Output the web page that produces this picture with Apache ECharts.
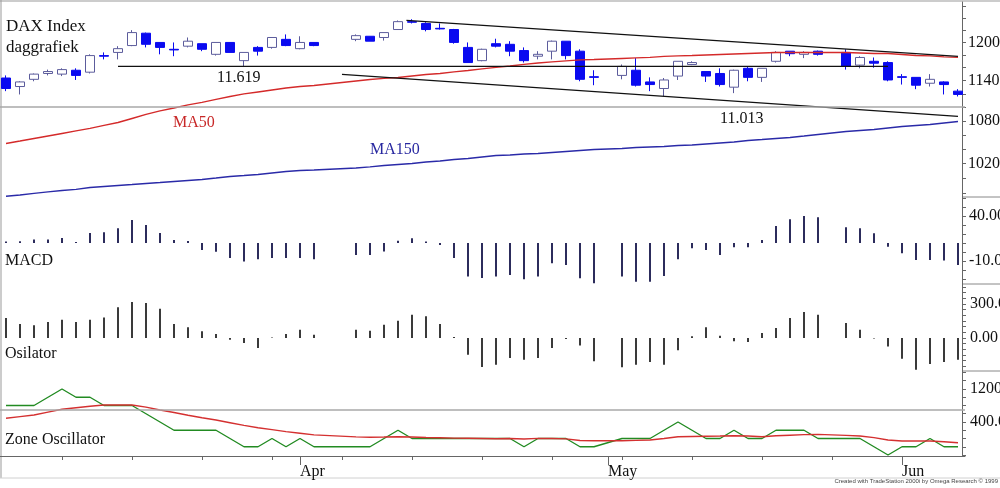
<!DOCTYPE html>
<html>
<head>
<meta charset="utf-8">
<title>DAX Index daggrafiek</title>
<script src="https://cdn.jsdelivr.net/npm/echarts@6/dist/echarts.min.js"></script>
<style>
html, body { margin: 0; padding: 0; background: #fff; }
#chart { width: 1000px; height: 488px; }
</style>
</head>
<body>
<div id="chart"></div>
<script>
// weekday slots, 3 Mar - 5 Jun 2015 (exchange holidays stay as empty slots)
var days = [
  '03-03','03-04','03-05','03-06','03-09','03-10','03-11','03-12','03-13','03-16',
  '03-17','03-18','03-19','03-20','03-23','03-24','03-25','03-26','03-27','03-30',
  '03-31','04-01','04-02','04-03','04-06','04-07','04-08','04-09','04-10','04-13',
  '04-14','04-15','04-16','04-17','04-20','04-21','04-22','04-23','04-24','04-27',
  '04-28','04-29','04-30','05-01','05-04','05-05','05-06','05-07','05-08','05-11',
  '05-12','05-13','05-14','05-15','05-18','05-19','05-20','05-21','05-22','05-25',
  '05-26','05-27','05-28','05-29','06-01','06-02','06-03','06-04','06-05'
];

// [open, close, low, high], index points / 10
var ohlc = [
  [1144,1128,1124,1148],[1131,1138,1119,1139],[1142,1150,1139,1151],[1151,1154,1148,1157],
  [1150,1157,1147,1159],[1156,1148,1141,1159],[1153,1179,1151,1181],[1179,1178,1173,1184],
  [1184,1190,1173,1194],[1195,1216,1194,1220],[1215,1197,1192,1216],[1200,1192,1181,1200],
  [1189,1188,1178,1200],[1194,1202,1192,1208],[1198,1189,1186,1198],[1181,1200,1179,1200],
  [1200,1184,1184,1200],[1171,1184,1161,1184],[1192,1186,1179,1194],[1192,1208,1190,1208],
  [1205,1195,1194,1213],[1190,1200,1189,1210],[1200,1195,1194,1200],null,null,
  [1205,1211,1202,1213],[1210,1202,1202,1210],[1208,1216,1203,1216],[1221,1234,1221,1236],
  [1234,1233,1231,1238],[1231,1221,1218,1233],[1223,1222,1221,1231],[1221,1200,1198,1222],
  [1192,1168,1168,1200],[1171,1189,1170,1190],[1198,1194,1192,1206],[1197,1186,1178,1202],
  [1187,1171,1168,1192],[1178,1181,1173,1186],[1186,1202,1173,1203],[1202,1179,1173,1202],
  [1186,1142,1139,1189],[1146,1145,1133,1156],null,
  [1148,1162,1142,1165],[1156,1133,1131,1175],[1138,1134,1124,1145],[1128,1141,1116,1144],
  [1147,1170,1141,1170],[1165,1168,1164,1170],[1154,1147,1138,1154],[1151,1134,1131,1159],
  [1130,1156,1121,1157],[1159,1145,1139,1161],[1145,1159,1138,1159],[1170,1184,1168,1186],
  [1186,1182,1178,1186],[1181,1184,1175,1186],[1186,1181,1179,1187],null,
  [1184,1162,1157,1189],[1164,1176,1159,1178],[1170,1167,1160,1176],[1168,1141,1139,1170],
  [1146,1145,1134,1150],[1145,1133,1127,1145],[1136,1142,1131,1150],[1138,1134,1119,1139],
  [1124,1119,1116,1127]
];

var ma50 = [
  1047.7,1051.2,1054.8,1058.3,1061.9,1065.5,1069.1,1073.4,1077.7,1083.5,
  1089.4,1094.5,1098.9,1103.4,1107.1,1111.6,1116.0,1119.8,1122.8,1125.8,
  1128.8,1131.1,1132.6,null,null,1139.5,1141.8,1143.4,1144.9,1147.2,
  1149.5,1151.0,1153.4,1155.7,1158.1,1160.4,1162.7,1165.1,1167.4,1169.0,
  1170.6,1172.2,1172.9,null,1174.5,1175.3,1176.1,1177.7,1178.5,1179.2,
  1180.0,1180.8,1181.6,1182.4,1183.2,1184.0,1184.0,1184.0,1184.0,null,
  1184.0,1183.2,1182.4,1182.4,1180.8,1179.2,1178.5,1176.9,1176.1
];

var ma150 = [
  976.0,977.7,979.7,981.7,983.6,985.0,987.6,988.9,990.2,991.5,
  992.9,994.2,995.6,996.9,998.2,1000.2,1002.3,1003.6,1005.0,1007.0,
  1009.0,1010.4,1011.1,null,null,1013.8,1015.2,1017.2,1018.6,1019.9,
  1022.0,1023.3,1025.4,1026.8,1028.9,1031.0,1031.6,1033.0,1033.7,1035.1,
  1036.5,1037.9,1039.3,null,1040.7,1042.1,1042.8,1043.5,1044.9,1045.6,
  1047.0,1048.4,1049.8,1051.9,1053.3,1054.8,1056.2,1058.3,1060.5,null,
  1064.7,1066.2,1067.6,1069.8,1071.9,1073.4,1074.8,1077.0,1079.1
];

// drawn trend lines: [slot, level]
var upperTrend = [[28.6, 1236], [68, 1177.7]];
var lowerTrend = [[24, 1149.7], [68, 1086.4]];
var supportLine = [[8, 1161.9], [63, 1161.9]];
var supportLevel = 1101.3;

var macd = [
  11.5,12,13.9,13.9,15.5,11,21,22,26.5,35.5,
  30,21,13.3,12.2,2.2,0.3,-6.7,-10.7,-8.1,-6.7,
  -6.7,-6.7,-8.1,null,null,-3.3,-3.3,0.4,12.6,15.2,
  11.5,7.8,-6.7,-27.4,-29,-27.4,-25.6,-30.4,-27.4,-12.6,
  -14.4,-29.3,-34.8,null,-27.4,-33,-33,-26.7,-8.1,4.1,
  2.2,-3.3,5.2,5.2,13.3,28.9,36.3,40,38.5,null,
  27.4,26.3,20.7,5.9,-1.5,-8.9,-8.9,-9.6,-14.4
];
var macdBase = 10;

var osc = [
  176,124,112,141,162,141,162,182,271,318,
  309,259,124,94,59,35,-15,-44,-88,5,
  35,74,29,null,null,74,65,118,153,206,
  191,124,10,-147,-256,-235,-176,-191,-176,-88,
  -8,-65,-206,null,-259,-235,-212,-235,-109,15,
  94,20,-29,-35,44,88,176,229,206,null,
  132,74,-5,-74,-182,-279,-229,-212,-191
];

var zone = [
  800,800,800,1000,1200,1000,1000,800,800,800,
  600,400,200,200,200,200,0,-200,-200,0,
  -200,0,-200,null,null,-200,-200,0,200,0,
  0,0,0,0,0,0,0,-200,0,0,
  0,-200,-200,null,0,0,0,200,400,200,
  0,0,200,0,0,200,200,200,0,null,
  0,0,-200,-400,-200,-200,0,-200,-200
];
var zoneAvg = [
  490,530,570,640,708,745,780,812,812,812,
  760,690,630,565,504,448,383,318,260,214,
  168,128,88,null,null,40,29,35,44,35,
  25,20,10,5,0,-5,0,-12,4,0,
  -10,-50,-53,null,-53,-45,-36,0,44,50,
  55,60,68,60,44,65,80,95,100,null,
  75,60,20,-36,-61,-61,-61,-80,-102
];
var zoneLevel = 691;

// axis ticks and labels
var priceLabels = [1020, 1080, 1140, 1200];
var priceTicks = [980,1000,1020,1040,1060,1080,1100,1120,1140,1160,1180,1200,1220,1240,1260];
var macdLabels = [40, -10];
var macdTicks = [-30,-20,-10,0,10,20,30,40,50,60];
var oscLabels = [300, 0];
var oscTicks = [-250,-200,-150,-100,-50,0,50,100,150,200,250,300,350,400,450];
var zoneLabels = [1200, 400];
var zoneTicks = [-400,-200,0,200,400,600,800,1000,1200,1400,1600];
var weekTickSlots = [4,9,14,19,24,29,34,39,44,49,54,59,64];
var monthSlots = [21, 43, 64];
var monthNames = ['Apr', 'May', 'Jun'];

var priceMin = 975, priceMax = 1267;

var serif = "'Liberation Serif', 'Times New Roman', serif";
var axisColor = '#666';

function gaps(arr) {
  return arr.map(function (v) { return v === null ? '-' : v; });
}

function panel(top, height) {
  return { left: -1, right: 35, top: top, height: height, outerBoundsMode: 'none', containLabel: false };
}

function hiddenCat(grid) {
  return {
    type: 'category', gridIndex: grid, data: days, boundaryGap: true,
    axisLine: { show: false, onZero: false }, axisTick: { show: false }, axisLabel: { show: false }
  };
}

function sideAxis(grid, min, max, labels, ticks, fmt, margin) {
  return {
    type: 'value', gridIndex: grid, position: 'right', offset: -3,
    min: min, max: max,
    axisLine: { show: true, lineStyle: { color: axisColor, width: 1 } },
    axisTick: { show: true, customValues: ticks, length: 4, lineStyle: { color: axisColor } },
    axisLabel: {
      customValues: labels, formatter: fmt, margin: margin,
      color: '#111', fontFamily: serif, fontSize: 16, align: 'left'
    },
    splitLine: { show: false }
  };
}

function sticks(values, base, color, idx) {
  var data = [];
  values.forEach(function (v, i) { if (v !== null) data.push([i, v]); });
  return {
    type: 'custom', xAxisIndex: idx, yAxisIndex: idx + 1, data: data, silent: true,
    renderItem: function (params, api) {
      var p0 = api.coord([api.value(0), base]);
      var p1 = api.coord([api.value(0), api.value(1)]);
      return {
        type: 'line',
        shape: { x1: p0[0], y1: p0[1], x2: p1[0], y2: p1[1] },
        style: { stroke: color, lineWidth: 2 }
      };
    }
  };
}

function trend(points, color) {
  return {
    type: 'line', xAxisIndex: 5, yAxisIndex: 0, data: points, symbol: 'none',
    lineStyle: { color: color, width: 1.3 }, silent: true
  };
}

function label(text, x, y, color, size) {
  return {
    type: 'text', x: x, y: y, silent: true,
    style: { text: text, fill: color || '#111', font: (size || 16) + 'px ' + serif, textVerticalAlign: 'middle' }
  };
}

function rule(x1, y1, x2, y2, color) {
  return { type: 'line', silent: true, shape: { x1: x1, y1: y1, x2: x2, y2: y2 }, style: { stroke: color, lineWidth: 1 } };
}

var chart = echarts.init(document.getElementById('chart'));

var option = {
  animation: false,
  backgroundColor: '#fff',
  grid: [panel(2, 195), panel(197, 87), panel(284, 87), panel(371, 85)],
  xAxis: [
    hiddenCat(0),
    hiddenCat(1),
    hiddenCat(2),
    {
      type: 'category', gridIndex: 3, data: days, boundaryGap: true, position: 'bottom',
      axisLine: { show: true, onZero: false, lineStyle: { color: axisColor } },
      axisTick: {
        show: true, alignWithLabel: true, length: 4, lineStyle: { color: axisColor },
        interval: function (i) { return weekTickSlots.indexOf(i) >= 0; }
      },
      axisLabel: { show: false }
    },
    {
      type: 'category', gridIndex: 3, data: days, boundaryGap: true, position: 'bottom',
      axisLine: { show: false, onZero: false },
      axisTick: {
        show: true, alignWithLabel: true, length: 9, lineStyle: { color: axisColor },
        interval: function (i) { return monthSlots.indexOf(i) >= 0; }
      },
      axisLabel: {
        show: true, margin: 8, align: 'left', color: '#111', fontFamily: serif, fontSize: 16,
        interval: function (i) { return monthSlots.indexOf(i) >= 0; },
        formatter: function (v, i) { return monthNames[monthSlots.indexOf(i)] || ''; }
      }
    },
    { type: 'value', gridIndex: 0, min: -0.5, max: 68.5, show: false }
  ],
  yAxis: [
    { type: 'log', gridIndex: 0, min: priceMin, max: priceMax, show: false },
    sideAxis(0, Math.log10(priceMin), Math.log10(priceMax),
      priceLabels.map(Math.log10), priceTicks.map(Math.log10),
      function (v) { return String(Math.round(Math.pow(10, v))); }, 6),
    sideAxis(1, -35.6, 61.1, macdLabels, macdTicks, function (v) { return v.toFixed(2); }, 7),
    sideAxis(2, -291, 476.5, oscLabels, oscTicks, function (v) { return v.toFixed(2); }, 8),
    sideAxis(3, -424, 1636, zoneLabels, zoneTicks, function (v) { return v.toFixed(2); }, 8)
  ],
  series: [
    {
      type: 'candlestick', xAxisIndex: 0, yAxisIndex: 0, barWidth: 9,
      data: ohlc.map(function (d) { return d === null ? ['-', '-', '-', '-'] : d; }),
      itemStyle: {
        color: '#ffffff', color0: '#0a0af0',
        borderColor: '#5c5c9c', borderColor0: '#0a0af0', borderWidth: 1
      }
    },
    {
      type: 'line', xAxisIndex: 0, yAxisIndex: 0, data: gaps(ma50), connectNulls: true,
      symbol: 'none', lineStyle: { color: '#d42a2a', width: 1.4 }, silent: true
    },
    {
      type: 'line', xAxisIndex: 0, yAxisIndex: 0, data: gaps(ma150), connectNulls: true,
      symbol: 'none', lineStyle: { color: '#2a2aa8', width: 1.4 }, silent: true
    },
    trend(upperTrend, '#111'),
    trend(lowerTrend, '#111'),
    Object.assign(trend(supportLine, '#111'), {
      markLine: {
        silent: true, symbol: 'none', label: { show: false },
        lineStyle: { color: '#a8a8a8', width: 1.5, type: 'solid' },
        data: [{ yAxis: supportLevel }]
      }
    }),
    sticks(macd, macdBase, '#2c2c5c', 1),
    sticks(osc, 0, '#3a3a3a', 2),
    {
      type: 'line', xAxisIndex: 3, yAxisIndex: 4, data: gaps(zone), connectNulls: true,
      symbol: 'none', lineStyle: { color: '#228b22', width: 1.4 }, silent: true,
      markLine: {
        silent: true, symbol: 'none', label: { show: false },
        lineStyle: { color: '#a8a8a8', width: 1.5, type: 'solid' },
        data: [{ yAxis: zoneLevel }]
      }
    },
    {
      type: 'line', xAxisIndex: 3, yAxisIndex: 4, data: gaps(zoneAvg), connectNulls: true,
      symbol: 'none', lineStyle: { color: '#d43030', width: 1.4 }, silent: true
    }
  ],
  graphic: [
    rule(0, 1, 1000, 1, '#999'),
    rule(1, 0, 1, 478, '#999'),
    rule(0, 478, 1000, 478, '#d0d0d0'),
    rule(962, 197, 1000, 197, '#888'),
    rule(962, 284, 1000, 284, '#888'),
    rule(962, 371, 1000, 371, '#888'),
    label('DAX Index', 6, 27, '#111', 17),
    label('daggrafiek', 6, 48, '#111', 17),
    label('11.619', 217, 78),
    label('11.013', 720, 119),
    label('MA50', 173, 123, '#c82828'),
    label('MA150', 370, 150, '#2828a0'),
    label('MACD', 5, 261),
    label('Osilator', 5, 354),
    label('Zone Oscillator', 5, 440),
    {
      type: 'text', right: 2, top: 478, silent: true,
      style: { text: 'Created with TradeStation 2000i by Omega Research \u00a9 1999', fill: '#444', font: '6px Liberation Sans, Arial, sans-serif' }
    }
  ]
};

chart.setOption(option);
</script>
</body>
</html>
